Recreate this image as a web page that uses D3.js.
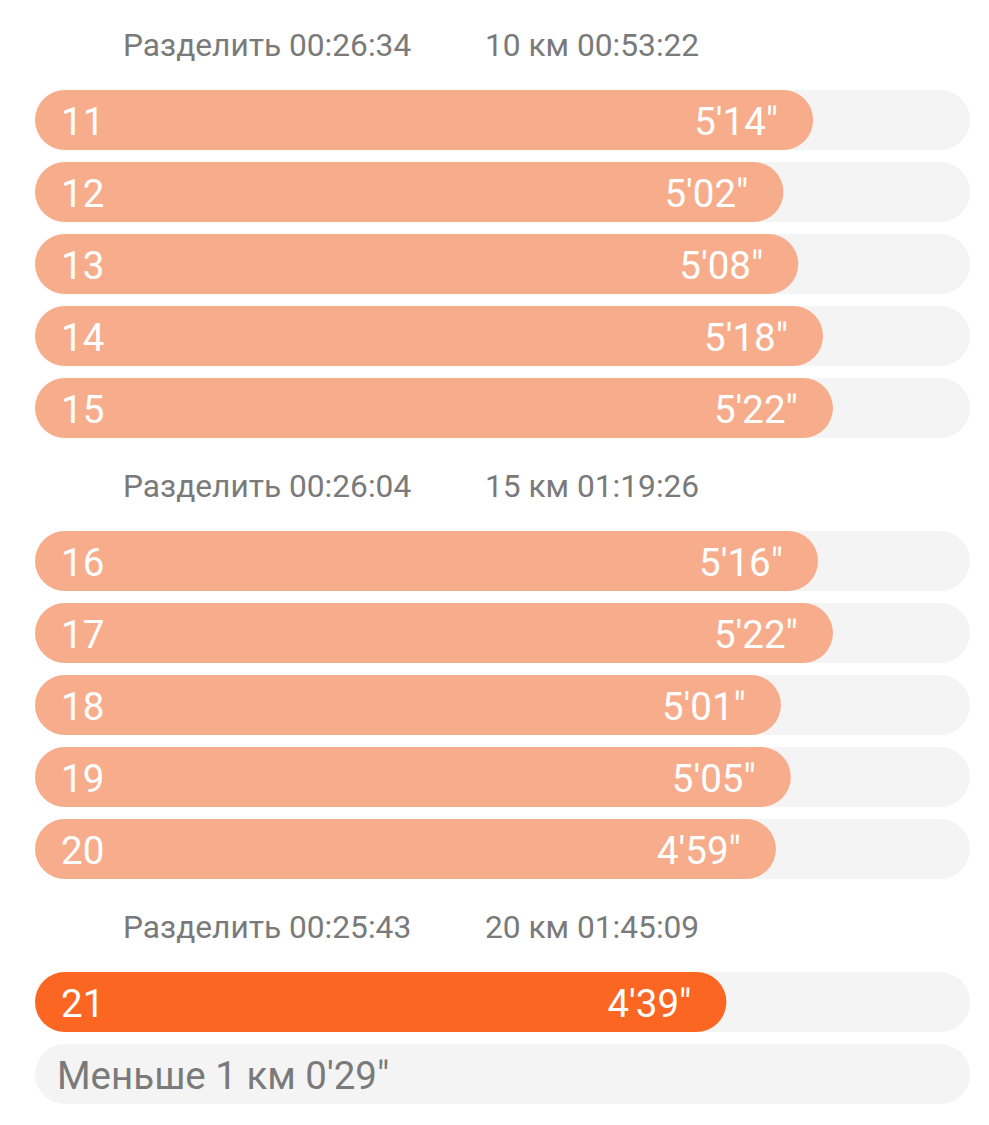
<!DOCTYPE html>
<html>
<head>
<meta charset="utf-8">
<script src="https://cdn.jsdelivr.net/npm/d3@7"></script>
<style>
  body { margin: 0; background: #fff; }
  svg { display: block; font-family: Roboto, "Noto Sans", sans-serif; }
</style>
</head>
<body>
<div id="chart"></div>
<script>
// Lap numbers and pace per km (seconds)
const laps = [11, 12, 13, 14, 15, 16, 17, 18, 19, 20, 21];
const paceSeconds = [314, 302, 308, 318, 322, 316, 322, 301, 305, 299, 279];
const paceLabels = ["5'14\"", "5'02\"", "5'08\"", "5'18\"", "5'22\"", "5'16\"", "5'22\"", "5'01\"", "5'05\"", "4'59\"", "4'39\""];

// Split headers shown before each group of laps
const splitLabels = ["Разделить 00:26:34", "Разделить 00:26:04", "Разделить 00:25:43"];
const totalLabels = ["10 км 00:53:22", "15 км 01:19:26", "20 км 01:45:09"];
const groupSizes = [5, 5, 1];

const remainderLabel = "Меньше 1 км 0'29\"";
const fastestLap = 21;

const width = 989, height = 1125;
const left = 35, right = 970;
const barH = 60, pitch = 72, headerGap = 81;
const labelSize = 38.5;

const svg = d3.select("#chart").append("svg")
    .attr("width", width)
    .attr("height", height);

// Pace -> bar width
const x = d3.scaleLinear()
    .domain([0, 377.3])
    .range([0, right - left]);

// Build rows: lap rows with their y positions, plus header positions
let rows = [];
let headers = [];
let y = 90;
let idx = 0;
groupSizes.forEach((n, g) => {
    if (g > 0) y += headerGap;
    headers.push({ split: splitLabels[g], total: totalLabels[g], y: y - 45.5 });
    for (let k = 0; k < n; k++) {
        rows.push({ lap: laps[idx], pace: paceSeconds[idx], label: paceLabels[idx], y: y });
        y += pitch;
        idx++;
    }
});
const remainderY = y;

// Headers
const hg = svg.selectAll("g.header")
    .data(headers)
    .join("g")
    .attr("class", "header")
    .attr("transform", d => `translate(0,${d.y})`);

hg.append("text")
    .attr("x", 123)
    .attr("y", 11)
    .attr("font-size", 31.7)
    .attr("fill", "#7a7a7a")
    .text(d => d.split);

hg.append("text")
    .attr("x", 485)
    .attr("y", 11)
    .attr("font-size", 31.7)
    .attr("fill", "#7a7a7a")
    .text(d => d.total);

// Lap rows
const rg = svg.selectAll("g.lap")
    .data(rows)
    .join("g")
    .attr("class", "lap")
    .attr("transform", d => `translate(${left},${d.y})`);

rg.append("rect")
    .attr("class", "track")
    .attr("width", right - left)
    .attr("height", barH)
    .attr("rx", barH / 2)
    .attr("fill", "#f4f4f4");

rg.append("rect")
    .attr("class", "bar")
    .attr("width", d => x(d.pace))
    .attr("height", barH)
    .attr("rx", barH / 2)
    .attr("fill", d => d.lap === fastestLap ? "#fb6622" : "#f7ad8b");

rg.append("text")
    .attr("x", 26)
    .attr("y", barH / 2 + 14.5)
    .attr("font-size", labelSize)
    .attr("fill", "#fff")
    .text(d => d.lap);

rg.append("text")
    .attr("x", d => x(d.pace) - 35)
    .attr("y", barH / 2 + 14.5)
    .attr("font-size", labelSize)
    .attr("fill", "#fff")
    .attr("text-anchor", "end")
    .text(d => d.label);

// Remainder row (less than 1 km)
const rem = svg.append("g")
    .attr("transform", `translate(${left},${remainderY})`);

rem.append("rect")
    .attr("width", right - left)
    .attr("height", barH)
    .attr("rx", barH / 2)
    .attr("fill", "#f4f4f4");

rem.append("text")
    .attr("x", 22)
    .attr("y", barH / 2 + 14.5)
    .attr("font-size", labelSize)
    .attr("fill", "#7a7a7a")
    .text(remainderLabel);
</script>
</body>
</html>
